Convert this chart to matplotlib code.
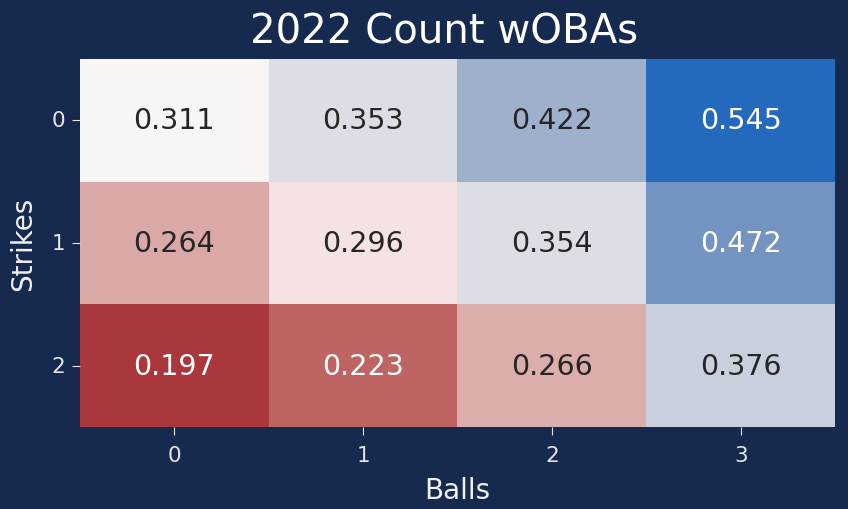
import numpy as np
import matplotlib
matplotlib.use("Agg")
import matplotlib.pyplot as plt
import seaborn as sns
from matplotlib.colors import TwoSlopeNorm

# =========================
# DATA
# =========================
balls = [0, 1, 2, 3]
strikes = [0, 1, 2]
woba_0_strikes = [0.311, 0.353, 0.422, 0.545]
woba_1_strikes = [0.264, 0.296, 0.354, 0.472]
woba_2_strikes = [0.197, 0.223, 0.266, 0.376]

grid = np.array([woba_0_strikes, woba_1_strikes, woba_2_strikes])

# =========================
# PLOT
# =========================
bg = '#162a4f'
fig = plt.figure(figsize=(8.48, 5.10), dpi=100, facecolor=bg)
ax = fig.add_axes([0.0943, 0.1608, 0.8904, 0.7216])
ax.set_facecolor(bg)

# red -> white -> blue, white centred on roughly league average
norm = TwoSlopeNorm(vmin=grid.min(), vcenter=0.310, vmax=grid.max())
sns.heatmap(
    grid, ax=ax, cmap='vlag_r', norm=norm, annot=True, fmt='.3f',
    annot_kws={'fontsize': 20.5}, cbar=False,
    xticklabels=balls, yticklabels=strikes,
)

ax.set_title('2022 Count wOBAs', fontsize=29, color='white', pad=12, x=0.482)
ax.set_xlabel('Balls', fontsize=20, color='#f0f0f0', labelpad=8)
ax.set_ylabel('Strikes', fontsize=20, color='#f0f0f0', labelpad=10)
ax.tick_params(colors='#e6e6e6', labelsize=15.5, length=5.8, pad=5)
ax.tick_params(axis='x', pad=7)
ax.tick_params(axis='y', rotation=0)

fig.savefig('out.png', dpi=100, facecolor=bg)
